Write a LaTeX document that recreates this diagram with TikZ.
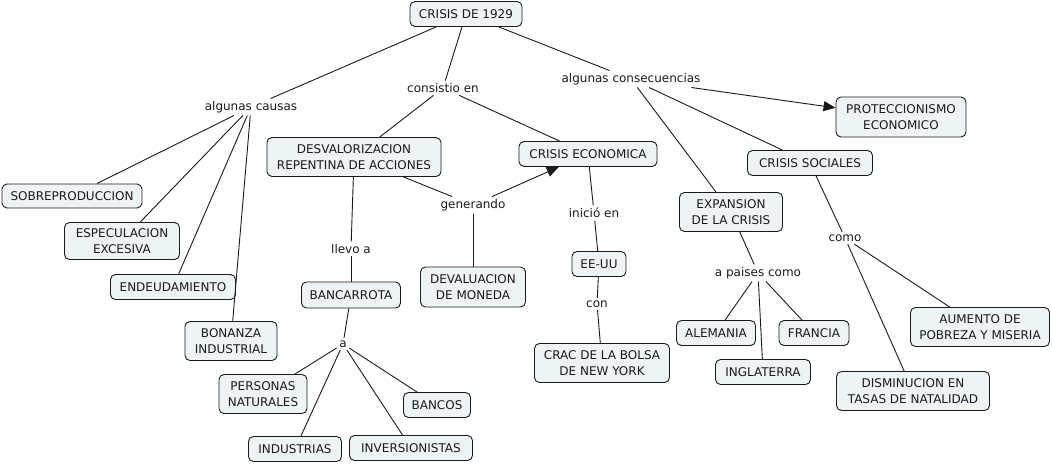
\documentclass[tikz,border=0pt]{standalone}
\usepackage{fontspec}
\setmainfont{DejaVu Sans}
\usetikzlibrary{arrows.meta}
\definecolor{boxfill}{HTML}{EEF4F6}
\definecolor{ink}{HTML}{1A1A1A}
\begin{document}
\begin{tikzpicture}[x=1pt,y=-1pt,
  concept/.style={draw=ink,line width=0.9pt,fill=boxfill,rounded corners=5pt,
    align=center,inner sep=0pt,text=ink,font=\fontsize{12}{16}\selectfont},
  linklabel/.style={inner sep=2.5pt,text=ink,font=\fontsize{12}{16}\selectfont},
  conn/.style={draw=ink,line width=0.9pt},
  arr/.style={conn,-{Triangle[length=12pt,width=10pt]}}]
\useasboundingbox (0,0) rectangle (1052,464);
% concepts
\node[concept,minimum width=112pt,minimum height=25pt] (crisis) at (466,14) {CRISIS DE 1929};
\node[concept,minimum width=174pt,minimum height=39pt] (desval) at (354,157) {DESVALORIZACION\\REPENTINA DE ACCIONES};
\node[concept,minimum width=138pt,minimum height=25pt] (eco) at (588,154) {CRISIS ECONOMICA};
\node[concept,minimum width=140pt,minimum height=24pt] (sobre) at (72,196) {SOBREPRODUCCION};
\node[concept,minimum width=115pt,minimum height=37pt] (espec) at (122,241) {ESPECULACION\\EXCESIVA};
\node[concept,minimum width=125pt,minimum height=25pt] (endeud) at (173,287) {ENDEUDAMIENTO};
\node[concept,minimum width=92pt,minimum height=39pt] (bonanza) at (231,341) {BONANZA\\INDUSTRIAL};
\node[concept,minimum width=99pt,minimum height=26pt] (banca) at (351,295) {BANCARROTA};
\node[concept,minimum width=105pt,minimum height=40pt] (devalu) at (473,287) {DEVALUACION\\DE MONEDA};
\node[concept,minimum width=54pt,minimum height=25pt] (eeuu) at (599,264) {EE-UU};
\node[concept,minimum width=135pt,minimum height=39pt] (crac) at (602,363) {CRAC DE LA BOLSA\\DE NEW YORK};
\node[concept,minimum width=130pt,minimum height=40pt] (protec) at (901,117) {PROTECCIONISMO\\ECONOMICO};
\node[concept,minimum width=125pt,minimum height=25pt] (social) at (810,163) {CRISIS SOCIALES};
\node[concept,minimum width=103pt,minimum height=39pt] (expan) at (731,212) {EXPANSION\\DE LA CRISIS};
\node[concept,minimum width=79pt,minimum height=25pt] (alem) at (716,333) {ALEMANIA};
\node[concept,minimum width=70pt,minimum height=25pt] (franc) at (814,333) {FRANCIA};
\node[concept,minimum width=95pt,minimum height=25pt] (ingla) at (763,372) {INGLATERRA};
\node[concept,minimum width=139pt,minimum height=39pt] (aumento) at (980,327) {AUMENTO DE\\POBREZA Y MISERIA};
\node[concept,minimum width=153pt,minimum height=39pt] (dismin) at (913,391) {DISMINUCION EN\\TASAS DE NATALIDAD};
\node[concept,minimum width=88pt,minimum height=39pt] (person) at (263,394) {PERSONAS\\NATURALES};
\node[concept,minimum width=67pt,minimum height=25pt] (bancos) at (437,405) {BANCOS};
\node[concept,minimum width=93pt,minimum height=25pt] (indus) at (295,449) {INDUSTRIAS};
\node[concept,minimum width=123pt,minimum height=25pt] (invers) at (411,448) {INVERSIONISTAS};
% link labels
\node[linklabel] (lcausas) at (251,107) {algunas causas};
\node[linklabel] (lconsist) at (443,88) {consistio en};
\node[linklabel] (lconsec) at (631,79) {algunas consecuencias};
\node[linklabel] (lgener) at (473,205) {generando};
\node[linklabel] (llevo) at (351,249) {llevo a};
\node[linklabel] (linicio) at (594,213) {inició en};
\node[linklabel] (lcon) at (597,304) {con};
\node[linklabel] (la) at (343,344) {a};
\node[linklabel] (lpaises) at (758,273) {a paises como};
\node[linklabel] (lcomo) at (845,238) {como};
% connectors
\draw[conn] (crisis) -- (lcausas);
\draw[conn] (crisis) -- (lconsist);
\draw[conn] (crisis) -- (lconsec);
\draw[conn] (lcausas) -- (sobre);
\draw[conn] (lcausas) -- (espec);
\draw[conn] (lcausas) -- (endeud);
\draw[conn] (lcausas) -- (bonanza);
\draw[conn] (lconsist) -- (desval);
\draw[conn] (lconsist) -- (eco);
\draw[conn] (desval) -- (lgener);
\draw[arr] (lgener) -- (eco);
\draw[conn] (lgener) -- (devalu);
\draw[conn] (desval) -- (llevo);
\draw[conn] (llevo) -- (banca);
\draw[conn] (banca) -- (la);
\draw[conn] (la) -- (person);
\draw[conn] (la) -- (indus);
\draw[conn] (la) -- (invers);
\draw[conn] (la) -- (bancos);
\draw[conn] (eco) -- (linicio);
\draw[conn] (linicio) -- (eeuu);
\draw[conn] (eeuu) -- (lcon);
\draw[conn] (lcon) -- (crac);
\draw[arr] (lconsec) -- (protec);
\draw[conn] (lconsec) -- (social);
\draw[conn] (lconsec) -- (expan);
\draw[conn] (expan) -- (lpaises);
\draw[conn] (lpaises) -- (alem);
\draw[conn] (lpaises) -- (ingla);
\draw[conn] (lpaises) -- (franc);
\draw[conn] (social) -- (lcomo);
\draw[conn] (lcomo) -- (aumento);
\draw[conn] (lcomo) -- (dismin);
\end{tikzpicture}
\end{document}
